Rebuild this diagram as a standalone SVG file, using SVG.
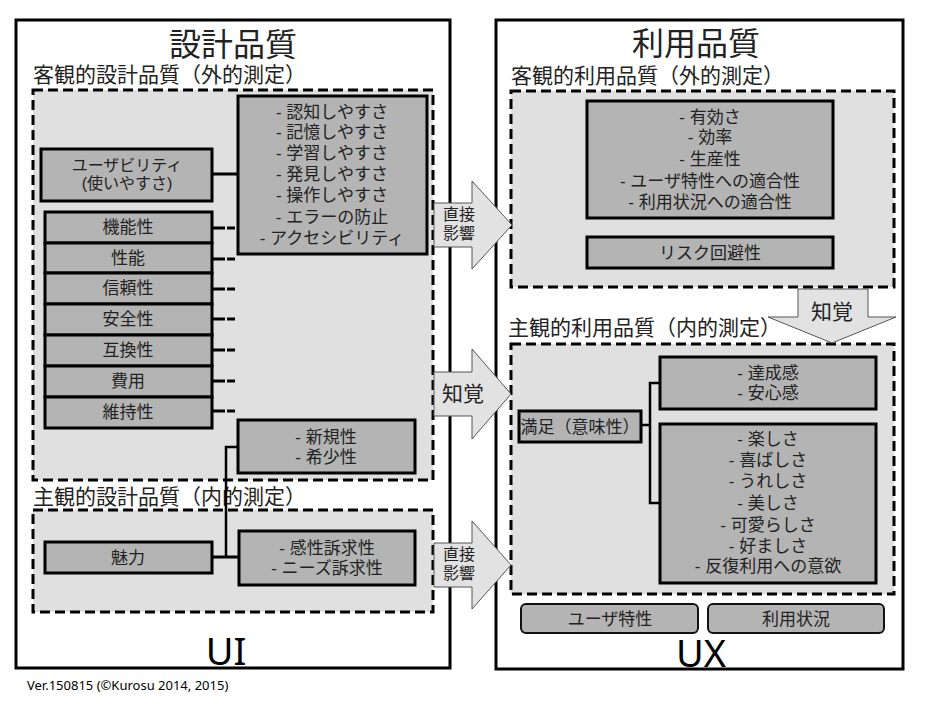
<svg xmlns="http://www.w3.org/2000/svg" width="936" height="720" viewBox="0 0 936 720">
<style>
text{font-family:"Liberation Sans","Noto Sans CJK JP",sans-serif;fill:#222}
.outer{fill:#fff;stroke:#000;stroke-width:3}
.zone{fill:#e0e0e0;stroke:#000;stroke-width:3;stroke-dasharray:10,5}
.box{fill:#b4b4b4;stroke:#000;stroke-width:3}
.rbox{fill:#b4b4b4;stroke:#111;stroke-width:2}
.ln{stroke:#000;stroke-width:3;fill:none}
.ln2{stroke:#000;stroke-width:2.5;fill:none}
.arr{fill:#e2e2e2;stroke:#555;stroke-width:1}
.t17{font-size:17px;text-anchor:middle}
.t16{font-size:16px}
.t21{font-size:21px}
.t32{font-size:32px;text-anchor:middle}
.lat{font-family:"Noto Sans","Open Sans",sans-serif;font-size:38px;text-anchor:middle;fill:#000}
.ver{font-family:"Noto Sans","Open Sans",sans-serif;font-size:13px;fill:#000}
</style>

<g id="ui-frame">
<rect class="outer" x="16" y="20" width="434" height="648"/>
<text class="t32" x="233" y="56">設計品質</text>
<text class="t21" x="33" y="82">客観的設計品質（外的測定）</text>
<rect class="zone" x="33" y="90" width="400" height="390"/>
<text class="t21" x="33" y="504">主観的設計品質（内的測定）</text>
<rect class="zone" x="33" y="510" width="400" height="102"/>
<text class="lat" x="226" y="665">UI</text>
</g>

<g id="ux-frame">
<rect class="outer" x="496" y="20" width="407" height="649"/>
<text class="t32" x="696" y="55">利用品質</text>
<text class="t21" x="511" y="83">客観的利用品質（外的測定）</text>
<rect class="zone" x="511" y="91" width="383" height="196"/>
<text class="t21" x="508" y="335">主観的利用品質（内的測定）</text>
<rect class="zone" x="511" y="344" width="383" height="250"/>
<text class="lat" x="701" y="667">UX</text>
</g>

<g id="connectors">
<line class="ln" x1="212" y1="174" x2="238" y2="174"/>
<path class="ln" d="M212,228H225M227,228H235M212,259H225M227,259H235M212,289H225M227,289H235M212,319H225M227,319H235M212,350H225M227,350H235M212,381H225M227,381H235M212,411H225M227,411H235"/>
<path class="ln2" d="M238,447H226V557"/>
<line class="ln" x1="212" y1="557" x2="239" y2="557"/>
<path class="ln2" d="M641,425H650M660,383H650V503H660"/>
</g>

<g id="usability">
<rect class="box" x="41" y="149" width="171" height="52"/>
<text style="font-size:16px;text-anchor:middle" x="127" y="171">ユーザビリティ</text>
<text style="font-size:16px;text-anchor:middle" x="127" y="189">(使いやすさ)</text>
</g>
<g id="usability-list">
<rect class="box" x="238" y="96" width="189" height="158"/>
<text class="t17" x="332" y="118">- 認知しやすさ</text>
<text class="t17" x="332" y="138">- 記憶しやすさ</text>
<text class="t17" x="332" y="159">- 学習しやすさ</text>
<text class="t17" x="332" y="180">- 発見しやすさ</text>
<text class="t17" x="332" y="201">- 操作しやすさ</text>
<text class="t17" x="332" y="223">- エラーの防止</text>
<text class="t17" x="332" y="244">- アクセシビリティ</text>
</g>
<g id="kinousei"><rect class="box" x="45" y="212" width="167" height="31"/><text class="t17" x="128" y="233">機能性</text></g>
<g id="seinou"><rect class="box" x="45" y="243" width="167" height="30"/><text class="t17" x="128" y="264">性能</text></g>
<g id="shinraisei"><rect class="box" x="45" y="273" width="167" height="31"/><text class="t17" x="128" y="294">信頼性</text></g>
<g id="anzensei"><rect class="box" x="45" y="304" width="167" height="31"/><text class="t17" x="128" y="325">安全性</text></g>
<g id="gokansei"><rect class="box" x="45" y="335" width="167" height="31"/><text class="t17" x="128" y="356">互換性</text></g>
<g id="hiyou"><rect class="box" x="45" y="366" width="167" height="31"/><text class="t17" x="128" y="387">費用</text></g>
<g id="ijisei"><rect class="box" x="45" y="397" width="167" height="31"/><text class="t17" x="128" y="418">維持性</text></g>
<g id="shinkisei">
<rect class="box" x="238" y="420" width="177" height="53"/>
<text class="t17" x="326" y="443">- 新規性</text>
<text class="t17" x="326" y="463">- 希少性</text>
</g>
<g id="miryoku"><rect class="box" x="45" y="542" width="167" height="31"/><text class="t17" x="128" y="564">魅力</text></g>
<g id="kansei">
<rect class="box" x="239" y="531" width="176" height="54"/>
<text class="t17" x="327" y="554">- 感性訴求性</text>
<text class="t17" x="327" y="574">- ニーズ訴求性</text>
</g>

<g id="effectiveness">
<rect class="box" x="587" y="101" width="246" height="117"/>
<text class="t17" x="710" y="123">- 有効さ</text>
<text class="t17" x="710" y="143">- 効率</text>
<text class="t17" x="710" y="165">- 生産性</text>
<text class="t17" x="710" y="187">- ユーザ特性への適合性</text>
<text class="t17" x="710" y="208">- 利用状況への適合性</text>
</g>
<g id="risk"><rect class="box" x="587" y="237" width="246" height="31"/><text class="t17" x="710" y="259">リスク回避性</text></g>
<g id="manzoku"><rect class="box" x="519" y="411" width="122" height="31"/><text class="t17" x="580" y="433">満足（意味性）</text></g>
<g id="tasseikan">
<rect class="box" x="660" y="357" width="216" height="52"/>
<text class="t17" x="768" y="379">- 達成感</text>
<text class="t17" x="768" y="399">- 安心感</text>
</g>
<g id="tanoshisa">
<rect class="box" x="660" y="424" width="216" height="159"/>
<text class="t17" x="768" y="445">- 楽しさ</text>
<text class="t17" x="768" y="466">- 喜ばしさ</text>
<text class="t17" x="768" y="487">- うれしさ</text>
<text class="t17" x="768" y="509">- 美しさ</text>
<text class="t17" x="768" y="531">- 可愛らしさ</text>
<text class="t17" x="768" y="552">- 好ましさ</text>
<text class="t17" x="768" y="572">- 反復利用への意欲</text>
</g>
<g id="user-char"><rect class="rbox" x="521" y="604" width="177" height="29" rx="5"/><text class="t17" x="610" y="625">ユーザ特性</text></g>
<g id="context"><rect class="rbox" x="708" y="604" width="176" height="29" rx="5"/><text class="t17" x="796" y="625">利用状況</text></g>

<g id="arrows">
<g id="arrow-direct1">
<polygon class="arr" points="434,203 472,203 472,181 512,225 472,269 472,247 434,247"/>
<text class="t16" x="443" y="220">直接</text>
<text class="t16" x="443" y="238.5">影響</text>
</g>
<g id="arrow-perception1">
<polygon class="arr" points="434,372 472,372 472,349 511,394 472,439 472,416 434,416"/>
<text style="font-size:21px" x="442" y="401">知覚</text>
</g>
<g id="arrow-direct2">
<polygon class="arr" points="434,543 472,543 472,521 511,565 472,609 472,587 434,587"/>
<text class="t16" x="443" y="560">直接</text>
<text class="t16" x="443" y="578.5">影響</text>
</g>
<g id="arrow-perception2">
<polygon class="arr" points="798,289 868,289 868,317 896,317 832,343 768,317 798,317"/>
<text style="font-size:21px;text-anchor:middle" x="832" y="319">知覚</text>
</g>
</g>

<text class="ver" x="27" y="690">Ver.150815 (©Kurosu 2014, 2015)</text>
</svg>
